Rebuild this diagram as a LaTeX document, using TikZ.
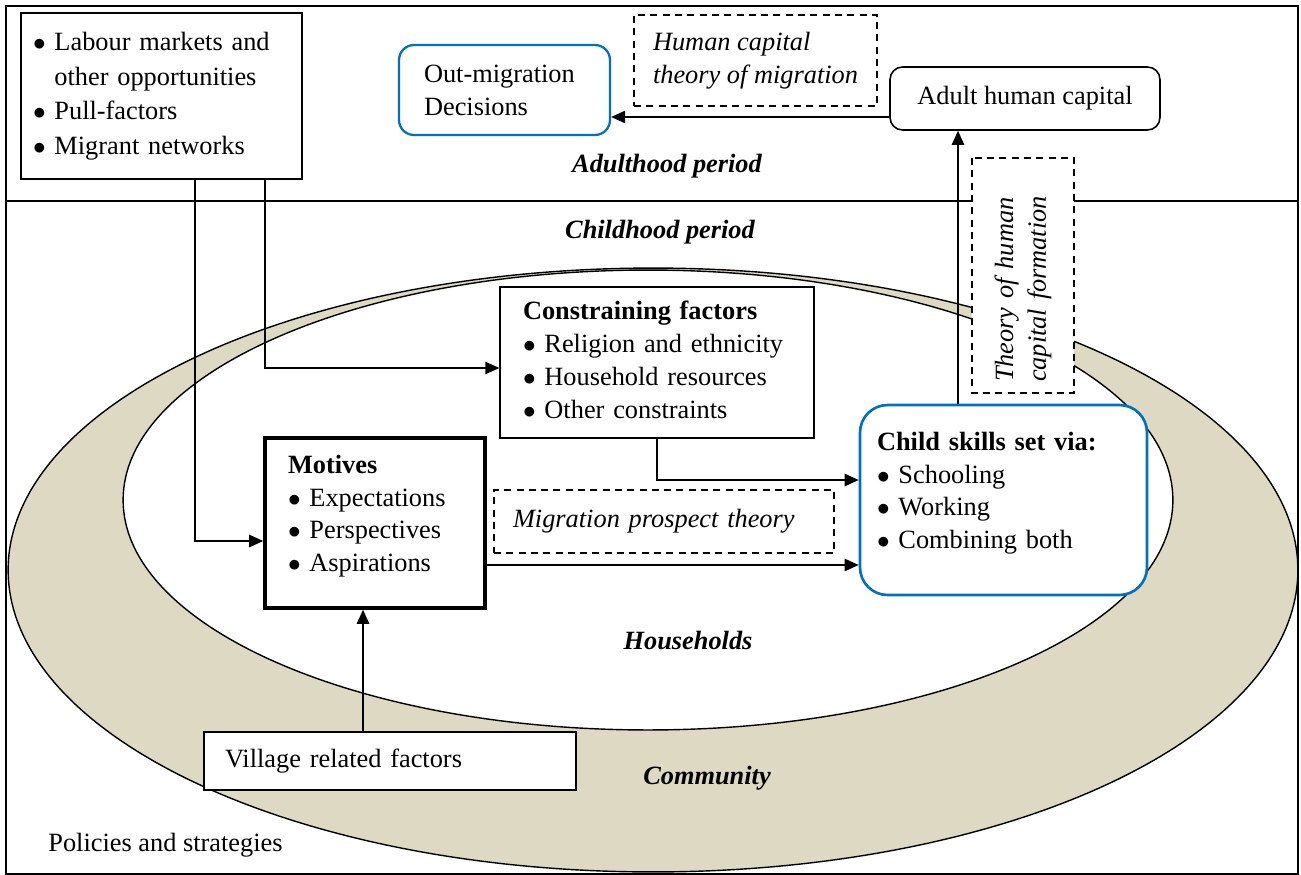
\documentclass[tikz,border=0pt]{standalone}
\usepackage{fontspec}
\setmainfont{Liberation Serif}
\usetikzlibrary{positioning, arrows.meta}
\definecolor{hcblue}{HTML}{0070C0}
\definecolor{comm}{HTML}{DDD9C3}
\newcommand{\fs}{\fontsize{15}{18.7}\selectfont}

\begin{document}
\begin{tikzpicture}[x=0.02cm, y=-0.02cm,
    font=\fs,
    box/.style={draw, fill=white, line width=0.8pt, align=left},
    dbox/.style={draw, dash pattern=on 4pt off 3pt, fill=white, line width=0.8pt, font=\fs\itshape},
    rbox/.style={draw=hcblue, fill=white, rounded corners=0.3cm, line width=1.3pt, align=left},
    lbl/.style={font=\fs\bfseries\itshape},
    arr/.style={-{Triangle[length=8pt,width=7pt]}, line width=1pt}
  ]
  \useasboundingbox (0,0) rectangle (1301,875);
  % community and households
  \filldraw[fill=comm, line width=0.8pt] (653,570) ellipse [x radius=12.9cm, y radius=6.04cm];
  \filldraw[fill=white, line width=0.8pt] (648,500) ellipse [x radius=10.5cm, y radius=4.6cm];
  % frame and periods
  \draw[line width=0.9pt] (6,6) rectangle (1298,874);
  \draw[line width=0.9pt] (6,201) -- (1298,201);

  \node[box, minimum width=5.62cm, minimum height=3.32cm, text width=5.14cm, inner xsep=0.24cm] (pull) at (161.5,96) {%
    \begin{tabular}{@{}l@{\hspace{5pt}}l@{}}
      $\bullet$ & Labour markets and\\[1pt]
      & other opportunities\\[1pt]
      $\bullet$ & Pull-factors\\[1pt]
      $\bullet$ & Migrant networks
    \end{tabular}};
  \node[rbox, minimum width=4.22cm, minimum height=1.8cm, text width=3.22cm, inner xsep=0.5cm] (outmig) at (504.5,90) {Out-migration\\Decisions};
  \node[dbox, align=left, minimum width=4.86cm, minimum height=1.82cm] (hcm) at (755.5,60.5) {Human capital\\theory of migration};
  \node[draw, fill=white, rounded corners=0.25cm, line width=0.9pt, minimum width=5.4cm, minimum height=1.26cm] (adult) at (1025,98.5) {Adult human capital};
  \node[dbox, rotate=90, align=left, minimum width=4.7cm, minimum height=2.04cm, text width=4.26cm, inner xsep=0.22cm] (hcf) at (1023,275.5) {Theory of human\\capital formation};

  \node[box, minimum width=6.28cm, minimum height=3.02cm, text width=5.36cm, inner xsep=0.46cm] (constr) at (657,362.5) {%
    \begin{tabular}{@{}l@{\hspace{5pt}}l@{}}
      \multicolumn{2}{@{}l@{}}{\textbf{Constraining factors}}\\
      $\bullet$ & Religion and ethnicity\\
      $\bullet$ & Household resources\\
      $\bullet$ & Other constraints
    \end{tabular}};
  \node[box, line width=2pt, minimum width=4.4cm, minimum height=3.4cm, text width=3.48cm, inner xsep=0.46cm] (motives) at (375,523) {%
    \begin{tabular}{@{}l@{\hspace{5pt}}l@{}}
      \multicolumn{2}{@{}l@{}}{\textbf{Motives}}\\
      $\bullet$ & Expectations\\
      $\bullet$ & Perspectives\\
      $\bullet$ & Aspirations\\[8pt]
    \end{tabular}};
  \node[rbox, rounded corners=0.55cm, line width=1.5pt, minimum width=5.74cm, minimum height=3.8cm, text width=5.06cm, inner xsep=0.34cm] (child) at (1003.5,500) {%
    \begin{tabular}{@{}l@{\hspace{5pt}}l@{}}
      \multicolumn{2}{@{}l@{}}{\textbf{Child skills set via:}}\\
      $\bullet$ & Schooling\\
      $\bullet$ & Working\\
      $\bullet$ & Combining both\\[8pt]
    \end{tabular}};
  \node[dbox, align=left, minimum width=6.8cm, minimum height=1.26cm, text width=6.04cm, inner xsep=0.38cm] (mpt) at (664,521.5) {Migration prospect theory};
  \node[box, line width=1.2pt, minimum width=7.44cm, minimum height=1.16cm, text width=6.6cm, inner xsep=0.42cm] (village) at (390,761) {Village related factors};

  \node[lbl] (adulthood) at (667,166) {Adulthood period};
  \node[lbl] (childhood) at (660,232) {Childhood period};
  \node[lbl] (households) at (688,641) {Households};
  \node[lbl] (community) at (707,778) {Community};
  \node[anchor=west, inner sep=0pt] (policies) at (48,845) {Policies and strategies};

  % connectors
  \coordinate (a1) at ([yshift=-0.37cm]adult.west);
  \draw[arr] (a1) -- (a1 -| outmig.east);
  \coordinate (c1) at ([xshift=-0.91cm]child.north);
  \draw[arr] (c1) -- (c1 |- adult.south);
  \coordinate (p1) at ([xshift=3.5cm]pull.south west);
  \coordinate (p2) at ([xshift=4.9cm]pull.south west);
  \coordinate (m1) at ([yshift=-0.36cm]motives.west);
  \coordinate (k2) at ([yshift=-0.11cm]constr.west);
  \draw[arr] (p1) |- (m1);
  \draw[arr] (p2) |- (k2);
  \coordinate (k1) at ([yshift=0.4cm]child.west);
  \draw[arr] (constr.south) |- (k1);
  \coordinate (m2) at ([yshift=-0.84cm]motives.east);
  \draw[arr] (m2) -- (m2 -| child.west);
  \coordinate (v1) at ([xshift=-0.54cm]village.north);
  \draw[arr] (v1) -- (v1 |- motives.south);
\end{tikzpicture}
\end{document}
